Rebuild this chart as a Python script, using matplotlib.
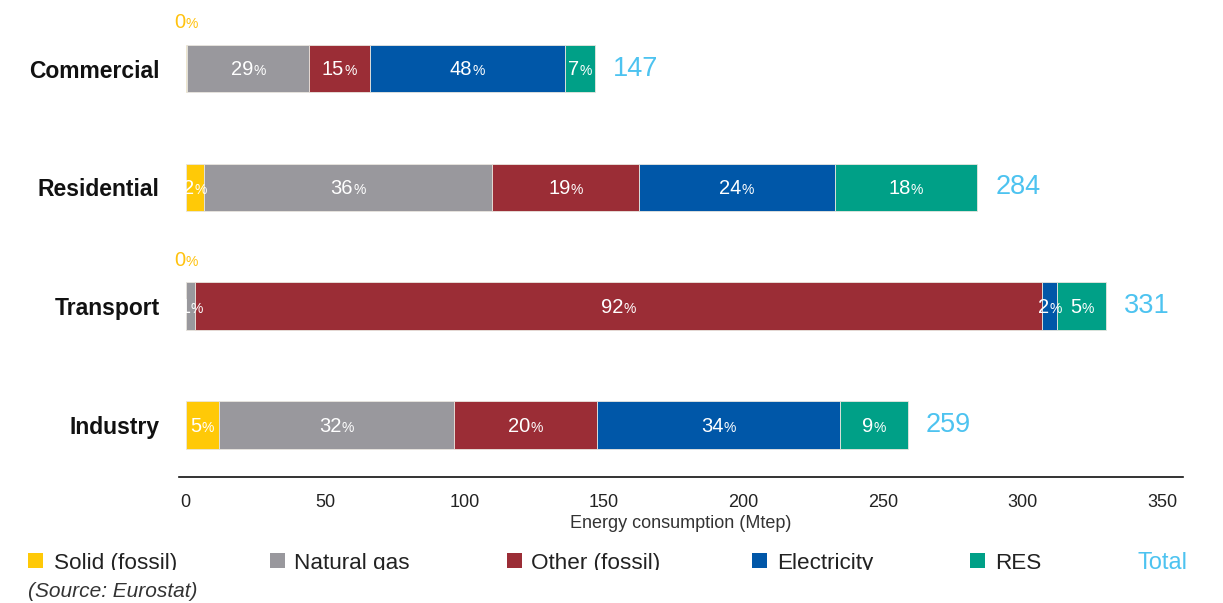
import matplotlib
matplotlib.use("Agg")
import matplotlib.pyplot as plt
from matplotlib.patches import Rectangle
from matplotlib.offsetbox import TextArea, HPacker, AnnotationBbox
from matplotlib.transforms import ScaledTranslation

FONT = "Liberation Sans"
plt.rcParams["font.family"] = [FONT, "DejaVu Sans"]

# ---------------- data ----------------
categories = ["Commercial", "Residential", "Transport", "Industry"]
sources = ["Solid (fossil)", "Natural gas", "Other (fossil)", "Electricity", "RES"]
colors = ["#FFC907", "#99989D", "#9B2D36", "#0057A8", "#00A087"]

# energy consumption (Mtep) per source
solid = [0.6, 6.8, 0.3, 12.1]
natural_gas = [43.6, 102.9, 3.2, 84.3]
other_fossil = [21.8, 52.9, 303.6, 51.1]
electricity = [70.0, 70.0, 5.4, 87.1]
res = [10.7, 51.1, 17.5, 24.3]

# printed share labels (%)
pct_solid = ["0", "2", "0", "5"]
pct_gas = ["29", "36", "1", "32"]
pct_other = ["15", "19", "92", "20"]
pct_elec = ["48", "24", "2", "34"]
pct_res = ["7", "18", "5", "9"]

totals = [147, 284, 331, 259]
xticks = [0, 50, 100, 150, 200, 250, 300, 350]

series = [solid, natural_gas, other_fossil, electricity, res]
labels = [pct_solid, pct_gas, pct_other, pct_elec, pct_res]

# ---------------- figure ----------------
W, H = 1223, 603
fig = plt.figure(figsize=(W / 100, H / 100), dpi=100)
ax = fig.add_axes([179 / W, 126 / H, 1004 / W, 477 / H])

ypos = [3, 2, 1, 0]
bar_h = 0.40
lefts = [0.0] * len(categories)
for s_vals, s_lab, col, name in zip(series, labels, colors, sources):
    ax.barh(ypos, s_vals, left=lefts, height=bar_h, color=col,
            edgecolor="#e9e6df", linewidth=0.6, label=name, zorder=2)
    for i, (v, lab) in enumerate(zip(s_vals, s_lab)):
        cx = lefts[i] + v / 2
        if lab == "0":
            txtcol = "#FFC20E"
            cy = ypos[i] + 0.385
        else:
            txtcol = "white"
            cy = ypos[i] - 0.01
        pack = HPacker(children=[
            TextArea(lab, textprops=dict(color=txtcol, fontsize=14.5, family=FONT)),
            TextArea("%", textprops=dict(color=txtcol, fontsize=10, family=FONT)),
        ], align="baseline", pad=0, sep=0)
        ab = AnnotationBbox(pack, (cx, cy), xycoords="data", frameon=False,
                            box_alignment=(0.5, 0.5), pad=0, zorder=5)
        ax.add_artist(ab)
    lefts = [l + v for l, v in zip(lefts, s_vals)]

for i, t in enumerate(totals):
    ax.annotate(str(t), (lefts[i], ypos[i]), xytext=(13, 0),
                textcoords="offset points", ha="left", va="center",
                color="#4DC3F0", fontsize=19.5, family=FONT)

ax.set_xlim(-2.33, 357.5)
ax.set_ylim(-0.438, 3.577)
ax.set_yticks(ypos)
ax.set_yticklabels(categories, fontsize=16.5, fontweight="bold", color="#111111")
for lbl in ax.get_yticklabels():
    lbl.set_transform(lbl.get_transform() + ScaledTranslation(0, 2 / 100, fig.dpi_scale_trans))
ax.set_xticks(xticks)
ax.set_xticklabels([str(x) for x in xticks], fontsize=13, color="#222222")
ax.tick_params(axis="y", length=0, pad=14)
ax.tick_params(axis="x", length=0, pad=12)
for sp in ["top", "right", "left"]:
    ax.spines[sp].set_visible(False)
ax.spines["bottom"].set_color("#111111")
ax.spines["bottom"].set_linewidth(1.2)
ax.set_xlabel("Energy consumption (Mtep)", fontsize=13, color="#333333", labelpad=3)

# legend (drawn by hand to match the source spacing)
sq_x = [28, 270, 507, 752, 970]
txt_x = [54, 294, 531, 777, 995]
base_y = (H - 569) / H
for c, n, sx, tx in zip(colors, sources, sq_x, txt_x):
    fig.add_artist(Rectangle((sx / W, (H - 568) / H), 15 / W, 15 / H,
                             transform=fig.transFigure, facecolor=c,
                             edgecolor="none"))
    fig.text(tx / W, base_y, n, color="#222222", fontsize=16.2,
             ha="left", va="baseline", family=FONT)
fig.text(1137 / W, base_y, "Total", color="#4DC3F0", fontsize=17,
         ha="left", va="baseline", family=FONT)

# clipped bottom of legend row, as in the source image
fig.add_artist(Rectangle((0, (H - 577.5) / H), 1, 8 / H, transform=fig.transFigure,
                         facecolor="white", edgecolor="none", zorder=10))

fig.text(28 / W, (H - 597) / H, "(Source: Eurostat)", fontsize=15, style="italic",
         color="#333333", ha="left", va="baseline", family=FONT, zorder=11)

fig.savefig("out.png", dpi=100)
